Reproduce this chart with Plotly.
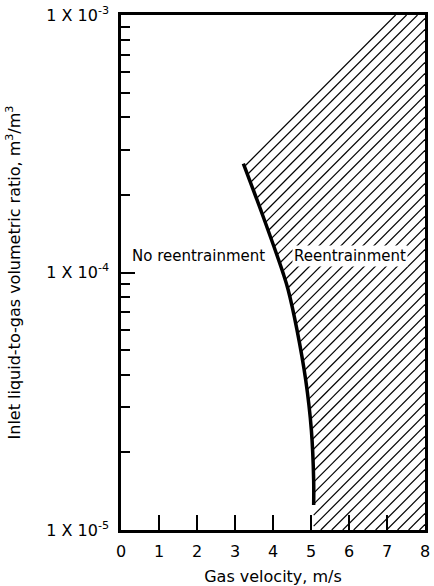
import math
import numpy as np
import plotly.graph_objects as go

# Boundary curve (gas velocity m/s, liquid-to-gas ratio m3/m3)
curve_x = [3.22, 3.74, 4.27, 4.40, 4.63, 4.86, 5.01, 5.07, 5.07]
curve_y = [2.65e-4, 1.65e-4, 9.9e-5, 8.55e-5, 6.0e-5, 3.83e-5, 2.44e-5, 1.56e-5, 1.25e-5]

# Hatched (reentrainment) region boundary beyond the curve
hatch_top_x = 7.15
x_min, x_max = 0, 8
y_min, y_max = 1e-5, 1e-3

x_ticks = [0, 1, 2, 3, 4, 5, 6, 7, 8]
y_major = [1e-5, 1e-4, 1e-3]
y_major_text = ["1 X 10<sup>-5</sup>", "1 X 10<sup>-4</sup>", "1 X 10<sup>-3</sup>"]
y_minor = [m * d for d in (1e-5, 1e-4) for m in range(2, 10)]

labels = ["No reentrainment", "Reentrainment"]
label_x = [2.05, 6.02]
label_y = [1.16e-4, 1.16e-4]

FONT = "DejaVu Sans"

# polygon of hatched region (data space)
poly_x = [hatch_top_x, x_max, x_max, curve_x[-1]] + curve_x[::-1] + [hatch_top_x]
poly_y = [y_max, y_max, y_min, y_min] + curve_y[::-1] + [y_max]

# --- hatch lines: 45 deg on screen, clipped to the polygon ---
SX, SY = 38.1, 257.5      # approx. px per x unit / per decade (for the hatch angle)
STEP = 11.0               # hatch spacing (px, horizontal)
pts = [(x * SX, math.log10(y) * SY) for x, y in zip(poly_x, poly_y)]
dvals = [Y - X for X, Y in pts]
hx, hy = [], []
for c in np.arange(min(dvals) + STEP / 2, max(dvals), STEP):
    inters = []
    for (X1, Y1), (X2, Y2) in zip(pts[:-1], pts[1:]):
        f1 = Y1 - X1 - c
        f2 = Y2 - X2 - c
        if (f1 < 0) != (f2 < 0):
            t = f1 / (f1 - f2)
            inters.append(X1 + t * (X2 - X1))
    inters.sort()
    for a, b in zip(inters[::2], inters[1::2]):
        for X in (a, b):
            hx.append(X / SX)
            hy.append(10 ** ((X + c) / SY))
        hx.append(None)
        hy.append(None)

fig = go.Figure()
fig.add_trace(go.Scatter(x=hx, y=hy, mode="lines", line=dict(color="black", width=1.2),
                         hoverinfo="skip", showlegend=False, connectgaps=False))
fig.add_trace(go.Scatter(
    x=curve_x, y=curve_y, mode="lines", line=dict(color="black", width=3.5, shape="spline"),
    showlegend=False))

for t, lx, ly in zip(labels, label_x, label_y):
    fig.add_annotation(x=lx, y=math.log10(ly), yref="y", xref="x", text=t, showarrow=False,
                       font=dict(family=FONT, size=15, color="black"), bgcolor="white")

fig.update_xaxes(range=[x_min, x_max], tickvals=x_ticks, ticks="inside", ticklen=15,
                 tickwidth=1.5, tickcolor="black", showline=True, linewidth=2.5,
                 linecolor="black", mirror=True, showgrid=False, zeroline=False,
                 automargin=False, ticklabelstandoff=5,
                 tickfont=dict(family=FONT, size=16, color="black"),
                 title=dict(text="Gas velocity, m/s", font=dict(family=FONT, size=16, color="black"),
                            standoff=12))
fig.update_yaxes(type="log", range=[-5, -3], tickvals=y_major, ticktext=y_major_text,
                 ticks="inside", ticklen=14, tickwidth=1.5, tickcolor="black",
                 minor=dict(tickmode="array", tickvals=y_minor, ticks="inside", ticklen=9,
                            tickwidth=1.5, tickcolor="black", showgrid=False),
                 showline=True, linewidth=2.5, linecolor="black", mirror=True,
                 showgrid=False, zeroline=False, automargin=False, ticklabelstandoff=6,
                 tickfont=dict(family=FONT, size=16, color="black"),
                 title=dict(text="Inlet liquid-to-gas volumetric ratio, m<sup>3</sup>/m<sup>3</sup>",
                            font=dict(family=FONT, size=16, color="black"), standoff=22))
fig.update_layout(width=434, height=586, margin=dict(l=121, r=9, t=15, b=56),
                  plot_bgcolor="white", paper_bgcolor="white")
fig.write_html("out.html", config={"displayModeBar": False},
               post_script="document.body.style.margin='0';")
